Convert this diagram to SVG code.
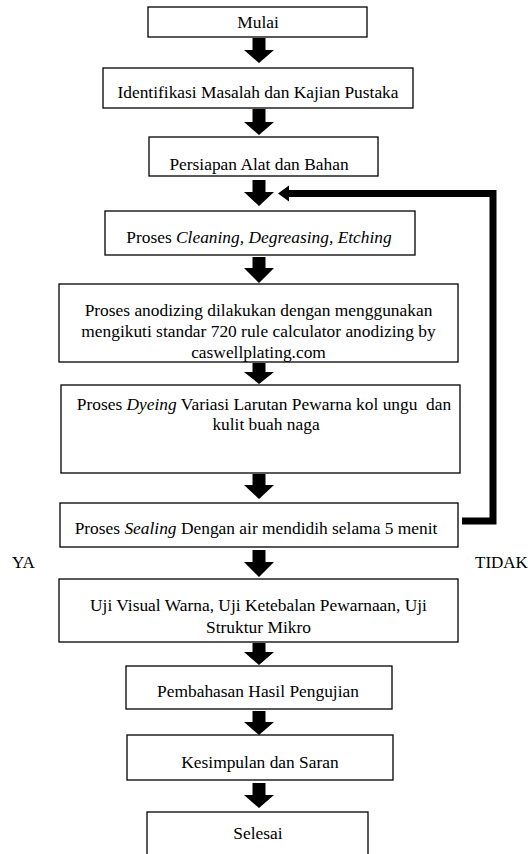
<svg xmlns="http://www.w3.org/2000/svg" width="528" height="854" viewBox="0 0 528 854">
<style>
  .box { fill: #fff; stroke: #000; stroke-width: 1.3; }
  .t { font-family: "Liberation Serif", "Times New Roman", serif; font-size: 17.4px; fill: #000; text-anchor: middle; }
  .lbl { font-family: "Liberation Serif", "Times New Roman", serif; font-size: 17px; fill: #000; }
  .arr { fill: #000; }
  .fb { fill: none; stroke: #000; stroke-width: 7; stroke-linejoin: miter; }
</style>
<rect width="528" height="854" fill="#fff"/>

<g id="connectors">
  <polygon class="arr" points="252.5,38 265.5,38 265.5,50 274,50 259,63 244,50 252.5,50"/>
  <polygon class="arr" points="252.5,109 265.5,109 265.5,122 274,122 259,135 244,122 252.5,122"/>
  <polygon class="arr" points="252.5,180 265.5,180 265.5,192 274,192 259,206 244,192 252.5,192"/>
  <polygon class="arr" points="252.5,257 265.5,257 265.5,268 274,268 259,283 244,268 252.5,268"/>
  <polygon class="arr" points="252.5,363 265.5,363 265.5,372 274,372 259,384 244,372 252.5,372"/>
  <polygon class="arr" points="252.5,474 265.5,474 265.5,485 274,485 259,499 244,485 252.5,485"/>
  <polygon class="arr" points="252.5,550 265.5,550 265.5,562 274,562 259,577 244,562 252.5,562"/>
  <polygon class="arr" points="252.5,643 265.5,643 265.5,652 274,652 259,665 244,652 252.5,652"/>
  <polygon class="arr" points="252.5,711 265.5,711 265.5,722 274,722 259,735 244,722 252.5,722"/>
  <polygon class="arr" points="252.5,783 265.5,783 265.5,795 274,795 259,808 244,795 252.5,795"/>
  <polyline class="fb" points="462,521 493,521 493,193.5 287,193.5"/>
  <polygon class="arr" points="278,193.5 289,185.5 289,201.5"/>
</g>

<g id="n-mulai">
  <rect class="box" x="148" y="7" width="219" height="30"/>
  <text class="t" x="258" y="28">Mulai</text>
</g>
<g id="n-identifikasi">
  <rect class="box" x="103" y="68" width="310" height="40"/>
  <text class="t" x="258" y="98">Identifikasi Masalah dan Kajian Pustaka</text>
</g>
<g id="n-persiapan">
  <rect class="box" x="149" y="137" width="229" height="39"/>
  <text class="t" x="259" y="170">Persiapan Alat dan Bahan</text>
</g>
<g id="n-cleaning">
  <rect class="box" x="105" y="211" width="310" height="44"/>
  <text class="t" x="259" y="243">Proses <tspan font-style="italic">Cleaning, Degreasing, Etching</tspan></text>
</g>
<g id="n-anodizing">
  <rect class="box" x="59" y="284" width="399" height="78"/>
  <text class="t" x="258.5" y="316">Proses anodizing dilakukan dengan menggunakan</text>
  <text class="t" x="258.5" y="337">mengikuti standar 720 rule calculator anodizing by</text>
  <text class="t" x="258.5" y="358">caswellplating.com</text>
</g>
<g id="n-dyeing">
  <rect class="box" x="61" y="385" width="399" height="88"/>
  <text class="t" x="264" y="410" xml:space="preserve">Proses <tspan font-style="italic">Dyeing</tspan> Variasi Larutan Pewarna kol ungu  dan</text>
  <text class="t" x="266" y="430">kulit buah naga</text>
</g>
<g id="n-sealing">
  <rect class="box" x="60" y="503" width="398" height="44"/>
  <text class="t" x="256" y="534">Proses <tspan font-style="italic">Sealing</tspan> Dengan air mendidih selama 5 menit</text>
</g>
<g id="n-uji">
  <rect class="box" x="59" y="579" width="399" height="63"/>
  <text class="t" x="258.5" y="611">Uji Visual Warna, Uji Ketebalan Pewarnaan, Uji</text>
  <text class="t" x="258.5" y="633">Struktur Mikro</text>
</g>
<g id="n-pembahasan">
  <rect class="box" x="126" y="666" width="266" height="43"/>
  <text class="t" x="258" y="697">Pembahasan Hasil Pengujian</text>
</g>
<g id="n-kesimpulan">
  <rect class="box" x="127" y="735" width="266" height="45"/>
  <text class="t" x="260" y="768">Kesimpulan dan Saran</text>
</g>
<g id="n-selesai">
  <rect class="box" x="147" y="812" width="221" height="60"/>
  <text class="t" x="258" y="839">Selesai</text>
</g>

<g id="labels">
  <text class="lbl" x="12" y="568">YA</text>
  <text class="lbl" x="475" y="568">TIDAK</text>
</g>
</svg>
